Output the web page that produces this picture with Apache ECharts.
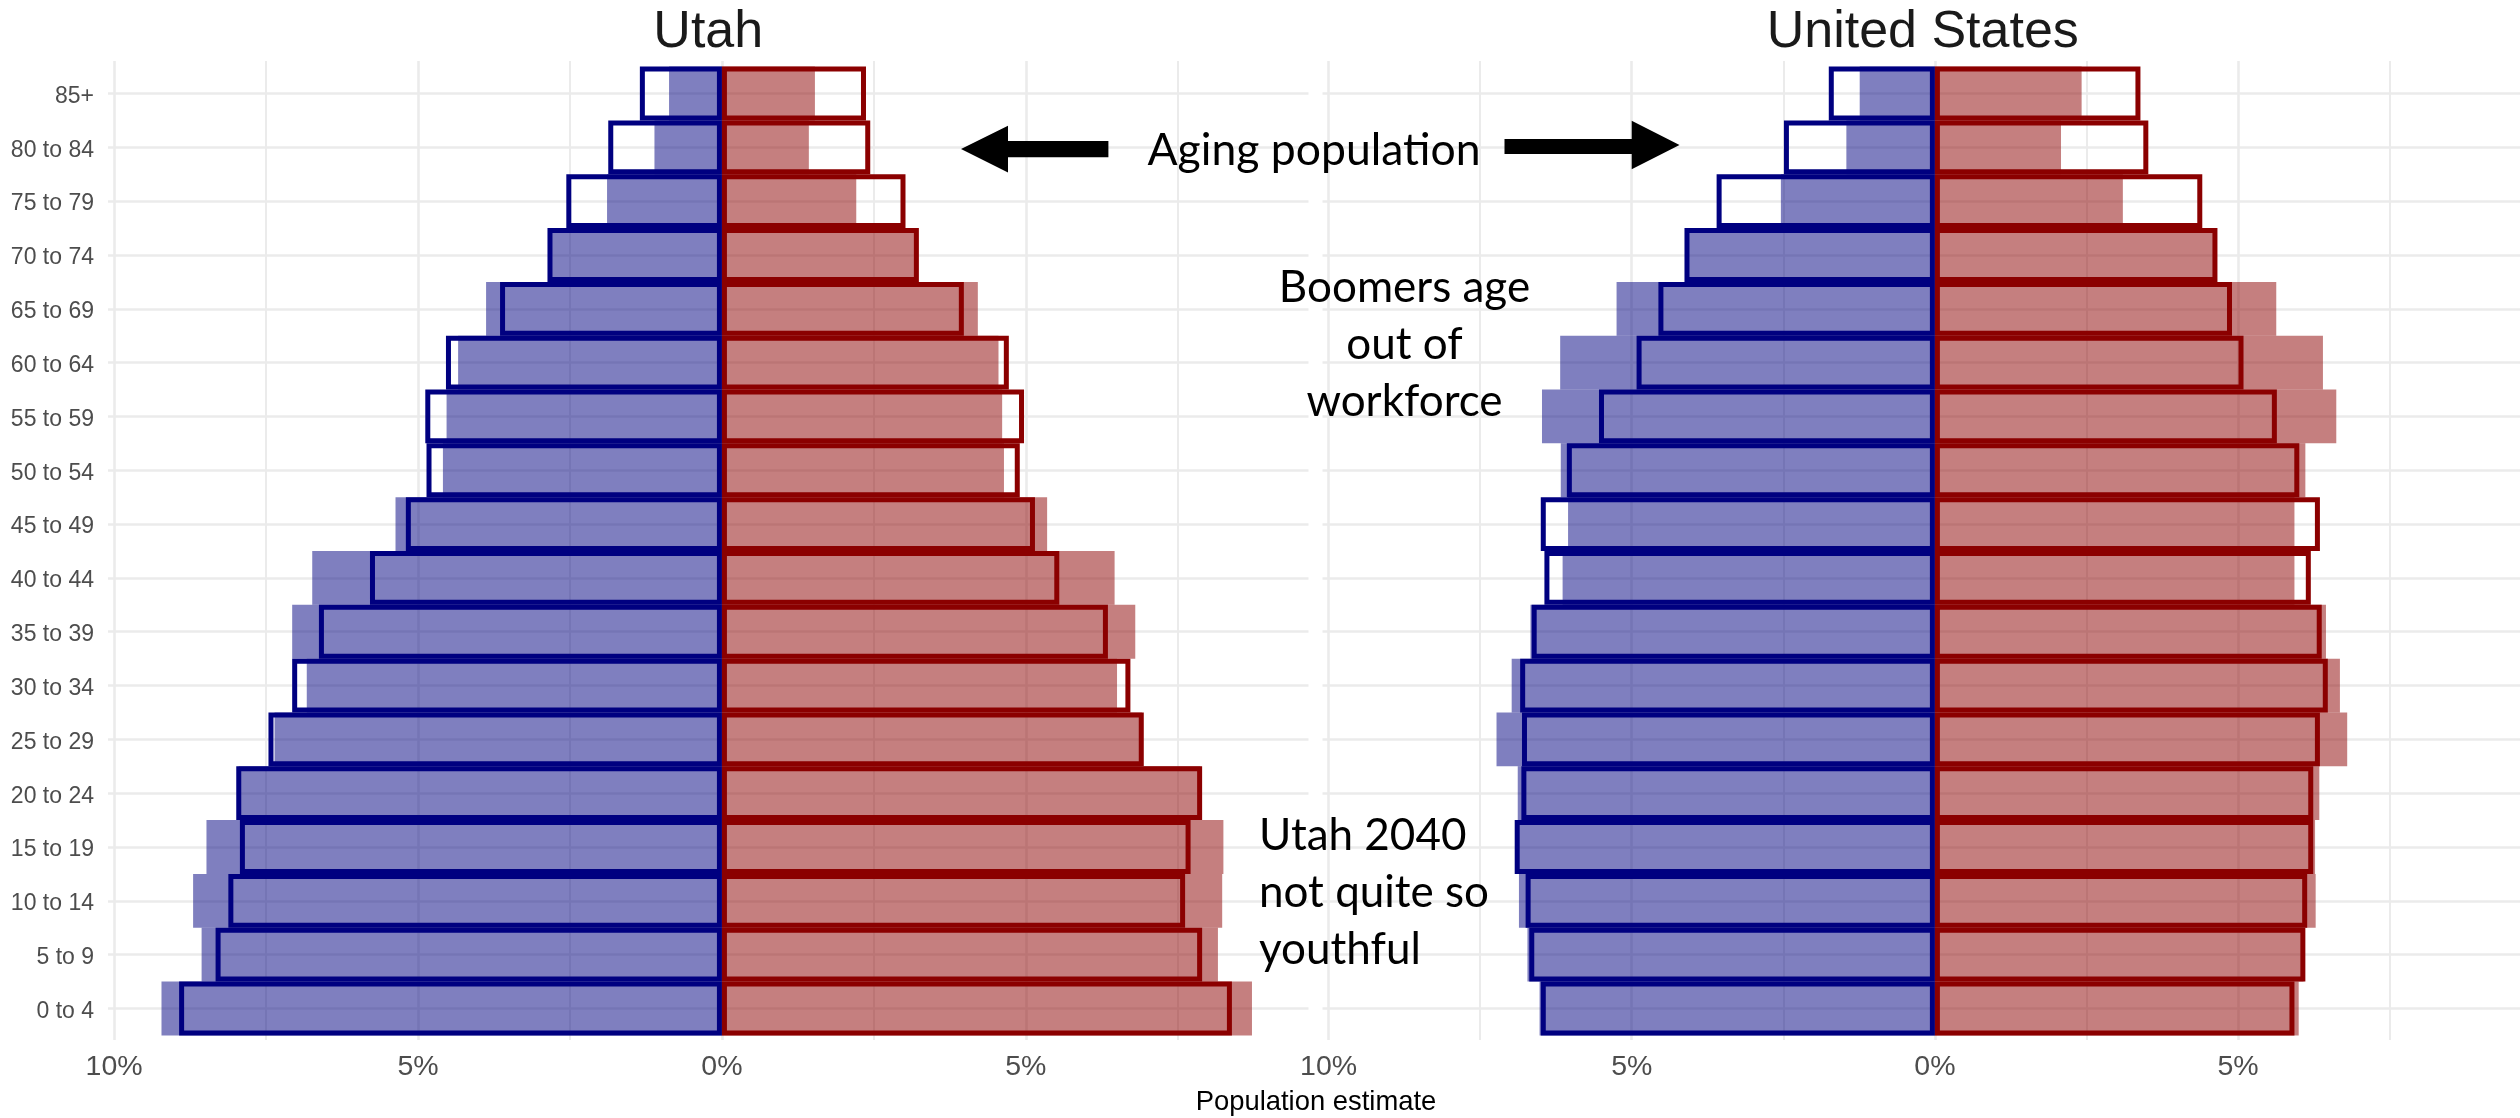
<!DOCTYPE html>
<html>
<head>
<meta charset="utf-8">
<script src="https://cdn.jsdelivr.net/npm/echarts@6/dist/echarts.min.js"></script>
<style>
  html, body { margin: 0; padding: 0; background: #ffffff; }
  #chart { width: 2520px; height: 1118px; }
</style>
</head>
<body>
<div id="chart"></div>
<script>
// Age groups, youngest first (the category axis puts the first one at the bottom)
const ageGroups = ['0 to 4', '5 to 9', '10 to 14', '15 to 19', '20 to 24', '25 to 29',
  '30 to 34', '35 to 39', '40 to 44', '45 to 49', '50 to 54', '55 to 59',
  '60 to 64', '65 to 69', '70 to 74', '75 to 79', '80 to 84', '85+'];

// Share of population (%) — filled bars: current estimate
const utahMaleCurrent   = [9.22, 8.56, 8.70, 8.48, 7.95, 7.36, 6.83, 7.07, 6.74, 5.37, 4.59, 4.53, 4.34, 3.88, 2.83, 1.89, 1.11, 0.87];
const utahFemaleCurrent = [8.72, 8.16, 8.23, 8.25, 7.87, 6.91, 6.50, 6.80, 6.46, 5.35, 4.64, 4.61, 4.55, 4.21, 3.20, 2.21, 1.43, 1.53];
const usMaleCurrent     = [6.52, 6.72, 6.86, 6.90, 6.88, 7.23, 6.98, 6.67, 6.14, 6.05, 6.17, 6.48, 6.18, 5.25, 4.06, 2.54, 1.46, 1.24];
const usFemaleCurrent   = [6.00, 6.08, 6.28, 6.27, 6.34, 6.80, 6.68, 6.45, 5.93, 5.93, 6.11, 6.62, 6.40, 5.63, 4.59, 3.10, 2.08, 2.42];

// Share of population (%) — outlined bars: 2040 projection
const utahMale2040   = [8.93, 8.33, 8.12, 7.93, 7.99, 7.46, 7.07, 6.63, 5.79, 5.20, 4.86, 4.88, 4.54, 3.65, 2.87, 2.56, 1.87, 1.35];
const utahFemale2040 = [8.39, 7.90, 7.62, 7.71, 7.90, 6.94, 6.72, 6.35, 5.55, 5.15, 4.90, 4.97, 4.72, 3.98, 3.24, 3.02, 2.44, 2.37];
const usMale2040     = [6.50, 6.69, 6.75, 6.93, 6.82, 6.81, 6.84, 6.65, 6.44, 6.50, 6.07, 5.54, 4.92, 4.56, 4.13, 3.60, 2.49, 1.75];
const usFemale2040   = [5.93, 6.11, 6.14, 6.24, 6.24, 6.35, 6.48, 6.38, 6.20, 6.35, 6.01, 5.64, 5.09, 4.90, 4.66, 4.41, 3.52, 3.39];

// Panel titles and x-axis ticks
const panelTitles = ['Utah', 'United States'];
const xLabelValues = [-10, -5, 0, 5, 10];
const xMajorGrid = [-10, -5, 0, 5, 10];
const xMinorGrid = [-7.5, -2.5, 2.5, 7.5];
const xAxisTitle = 'Population estimate';

// Shared x range (data extent with a 5% pad on each side)
const X_MIN = -10.1;
const X_MAX = 9.65;

const panelData = [
  { male: utahMaleCurrent, female: utahFemaleCurrent, male2040: utahMale2040, female2040: utahFemale2040 },
  { male: usMaleCurrent,   female: usFemaleCurrent,   male2040: usMale2040,   female2040: usFemale2040 }
];

// Panel geometry (pixels): bars occupy the inner band, the panel background a bit more
const PANEL_LEFT = [108, 1322.5];
const PANEL_WIDTH = 1200.5;
const BAR_TOP = 66.6;
const BAR_HEIGHT = 968.8;
const BG_TOP = 61;
const BG_HEIGHT = 979;

const NAVY = '#000080';
const DARKRED = '#8b0000';
const NAVY_FILL = 'rgba(0,0,128,0.5)';
const RED_FILL = 'rgba(139,0,0,0.5)';
const GRID_COLOR = '#ebebeb';
const AXIS_FONT = 'Liberation Sans';
const NOTE_FONT = 'Lato';

const neg = arr => arr.map(v => -v);

const grids = [], xAxes = [], yAxes = [], series = [];

const gridLineBase = {
  silent: true, z: 1, symbol: ['none', 'none'], animation: false,
  label: { show: false }, emphasis: { disabled: true },
  lineStyle: { color: GRID_COLOR, type: 'solid', width: 2.6 }
};

panelData.forEach((p, i) => {
  // --- background grid: carries the vertical grid lines over the full panel height
  const bg = grids.length;
  grids.push({ left: PANEL_LEFT[i], top: BG_TOP, width: PANEL_WIDTH, height: BG_HEIGHT, containLabel: false });
  xAxes.push({
    gridIndex: bg, type: 'value', min: X_MIN, max: X_MAX, show: false,
    splitLine: { show: false }
  });
  yAxes.push({
    gridIndex: bg, type: 'value', min: 0, max: 1, show: false,
    splitLine: { show: false }
  });
  series.push({
    type: 'line', xAxisIndex: bg, yAxisIndex: bg, data: [],
    animation: false, silent: true, z: 1,
    markLine: Object.assign({}, gridLineBase, {
      data: [
        ...xMajorGrid.filter(v => v >= X_MIN && v <= X_MAX).map(v => ({ xAxis: v, lineStyle: { width: 2.6 } })),
        ...xMinorGrid.map(v => ({ xAxis: v, lineStyle: { width: 2 } }))
      ]
    })
  });

  // --- bar grid
  const g = grids.length;
  grids.push({ left: PANEL_LEFT[i], top: BAR_TOP, width: PANEL_WIDTH, height: BAR_HEIGHT, containLabel: false });
  xAxes.push({
    gridIndex: g, type: 'value', min: X_MIN, max: X_MAX,
    axisLine: { show: false }, axisTick: { show: false }, splitLine: { show: false },
    axisLabel: {
      customValues: xLabelValues,
      formatter: v => Math.abs(Math.round(v)) + '%',
      color: '#4d4d4d', fontSize: 28.5, fontFamily: AXIS_FONT, margin: 17
    }
  });
  yAxes.push({
    gridIndex: g, type: 'category', data: ageGroups,
    axisLine: { show: false }, axisTick: { show: false }, splitLine: { show: false },
    axisLabel: {
      show: i === 0, color: '#4d4d4d', fontSize: 23, fontFamily: AXIS_FONT,
      margin: 14, verticalAlign: 'top', lineHeight: 6
    }
  });

  const common = {
    type: 'bar', xAxisIndex: g, yAxisIndex: g,
    barCategoryGap: '0%', barGap: '-100%',
    animation: false, silent: true, emphasis: { disabled: true }
  };

  series.push(Object.assign({}, common, {
    name: 'male current', data: neg(p.male), z: 2,
    itemStyle: { color: NAVY_FILL },
    // horizontal grid lines at each age group
    markLine: Object.assign({}, gridLineBase, {
      data: ageGroups.map(a => ({ yAxis: a, lineStyle: { width: 2.6 } }))
    })
  }));
  series.push(Object.assign({}, common, {
    name: 'female current', data: p.female.slice(), z: 2,
    itemStyle: { color: RED_FILL }
  }));
  series.push(Object.assign({}, common, {
    name: 'male 2040', data: neg(p.male2040), z: 3,
    itemStyle: { color: 'rgba(0,0,0,0)', borderColor: NAVY, borderWidth: 5 }
  }));
  series.push(Object.assign({}, common, {
    name: 'female 2040', data: p.female2040.slice(), z: 4,
    itemStyle: { color: 'rgba(0,0,0,0)', borderColor: DARKRED, borderWidth: 5 }
  }));
});

function label(text, x, y, opts) {
  return {
    type: 'text', x: x, y: y, silent: true, z: 50,
    style: Object.assign({
      text: text, fill: '#000000',
      fontFamily: NOTE_FONT, fontSize: 44,
      align: 'center', textAlign: 'center',
      verticalAlign: 'middle', textVerticalAlign: 'middle'
    }, opts || {})
  };
}

const graphics = [
  // facet strip titles
  label(panelTitles[0], PANEL_LEFT[0] + PANEL_WIDTH / 2, 33, { fontFamily: AXIS_FONT, fontSize: 52, fill: '#1a1a1a' }),
  label(panelTitles[1], PANEL_LEFT[1] + PANEL_WIDTH / 2, 33, { fontFamily: AXIS_FONT, fontSize: 52, fill: '#1a1a1a' }),
  // shared x-axis title
  label(xAxisTitle, 1316, 1102, { fontFamily: AXIS_FONT, fontSize: 27.4, fill: '#000000' }),
  // annotations
  label('Aging population', 1314, 151, { fontSize: 44.5 }),
  label('Boomers age', 1404.5, 288),
  label('out of', 1404.5, 345),
  label('workforce', 1404.5, 401.5),
  label('Utah 2040', 1259, 836, { align: 'left', textAlign: 'left' }),
  label('not quite so', 1259, 893, { align: 'left', textAlign: 'left' }),
  label('youthful', 1259, 950, { align: 'left', textAlign: 'left' }),
  // arrows
  {
    type: 'polygon', silent: true, z: 50,
    shape: { points: [[961, 149], [1008, 125.7], [1008, 141], [1108.4, 141], [1108.4, 157.3], [1008, 157.3], [1008, 172.4]] },
    style: { fill: '#000000' }
  },
  {
    type: 'polygon', silent: true, z: 50,
    shape: { points: [[1504.5, 139], [1631.7, 139], [1631.7, 120.7], [1679.5, 145], [1631.7, 169.3], [1631.7, 154], [1504.5, 154]] },
    style: { fill: '#000000' }
  }
];

const chart = echarts.init(document.getElementById('chart'), null, { renderer: 'canvas' });
chart.setOption({
  backgroundColor: '#ffffff',
  animation: false,
  grid: grids,
  xAxis: xAxes,
  yAxis: yAxes,
  series: series,
  graphic: { elements: graphics }
});
</script>
</body>
</html>
